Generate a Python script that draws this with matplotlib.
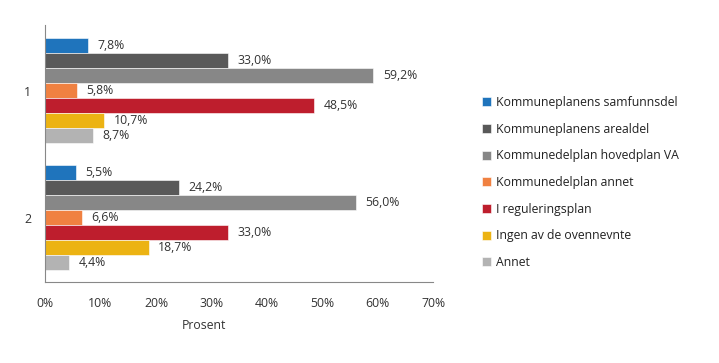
import numpy as np
import matplotlib.pyplot as plt

plt.rcParams['font.family'] = ['Open Sans', 'DejaVu Sans']

groups = ['1', '2']
series = ['Kommuneplanens samfunnsdel', 'Kommuneplanens arealdel',
          'Kommunedelplan hovedplan VA', 'Kommunedelplan annet',
          'I reguleringsplan', 'Ingen av de ovennevnte', 'Annet']
values_1 = [7.8, 33.0, 59.2, 5.8, 48.5, 10.7, 8.7]
values_2 = [5.5, 24.2, 56.0, 6.6, 33.0, 18.7, 4.4]
colors = ['#1f74bc', '#595959', '#878787', '#f08141', '#be1e2d', '#ecb313', '#b3b3b3']

fig = plt.figure(figsize=(7.19, 3.63), dpi=100)
ax = fig.add_axes([0.0626, 0.223, 0.54, 0.708])

h = 0.118
centers = np.array([0.0, 1.0])
data = np.array([values_1, values_2])
handles = []
for i, name in enumerate(series):
    y = centers - (3 - i) * h
    b = ax.barh(y, data[:, i], height=h, color=colors[i], edgecolor='white', linewidth=0.4, label=name)
    handles.append(b)
    for yy, v in zip(y, data[:, i]):
        ax.text(v + 1.7, yy, ('%.1f%%' % v).replace('.', ','), va='center', ha='left',
                fontsize=8.8, color='#333333')

ax.set_xlim(0, 70)
ax.set_ylim(1.505, -0.515)
ax.set_yticks(centers)
ax.set_yticklabels(groups)
ax.set_xticks(np.arange(0, 71, 10))
ax.set_xticklabels(['%d%%' % t for t in range(0, 71, 10)])
ax.tick_params(axis='both', length=0, labelsize=8.8, colors='#333333')
ax.tick_params(axis='x', pad=11)
ax.tick_params(axis='y', pad=10)
ax.set_xlabel('Prosent', fontsize=8.8, color='#333333')
ax.xaxis.set_label_coords(0.41, -0.145)
for s in ['top', 'right']:
    ax.spines[s].set_visible(False)
for s in ['left', 'bottom']:
    ax.spines[s].set_color('#888888')
    ax.spines[s].set_linewidth(0.8)

fig.legend(handles=handles, loc='center left', bbox_to_anchor=(0.655, 0.497), frameon=False,
           fontsize=8.8, handlelength=0.75, handleheight=0.75, handletextpad=0.4,
           labelspacing=1.12, labelcolor='#222222')

fig.savefig('out.png', dpi=100)
